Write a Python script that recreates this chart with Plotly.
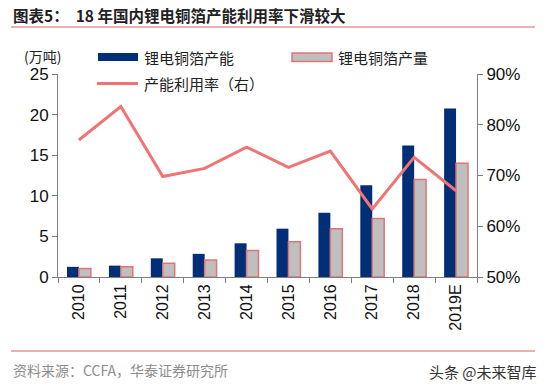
import plotly.graph_objects as go

years = ["2010", "2011", "2012", "2013", "2014", "2015", "2016", "2017", "2018", "2019E"]
capacity = [1.25, 1.4, 2.3, 2.85, 4.15, 5.95, 7.9, 11.3, 16.2, 20.75]
production = [1.05, 1.25, 1.7, 2.1, 3.25, 4.35, 5.95, 7.2, 12.0, 14.0]
utilization = [0.770, 0.836, 0.698, 0.714, 0.756, 0.716, 0.748, 0.634, 0.736, 0.670]

W, H = 551, 389
L, R, T, B = 58, 477, 74, 277

def px(x):
    return (x - L) / (R - L)

def py(y):
    return (B - y) / (B - T)

CJK = "Noto Sans CJK SC"
NUM = "Liberation Sans, Arial"
NAVY = "#002F78"
GRAY = "#BFBFBF"
PINK = "#E57373"
LINE = "#F07474"

fig = go.Figure()
fig.add_trace(go.Bar(x=years, y=capacity, name="锂电铜箔产能",
                     marker=dict(color=NAVY, line=dict(width=0))))
fig.add_trace(go.Bar(x=years, y=production, name="锂电铜箔产量",
                     marker=dict(color=GRAY, line=dict(color=PINK, width=1.5))))
fig.add_trace(go.Scatter(x=years, y=utilization, name="产能利用率（右）", yaxis="y2",
                         mode="lines", line=dict(color=LINE, width=3)))

axis_common = dict(showline=True, linecolor="#7F7F7F", linewidth=1, ticks="outside",
                   ticklen=5, tickcolor="#7F7F7F", showgrid=False, zeroline=False,
                   automargin=False)

fig.update_layout(
    width=W, height=H,
    margin=dict(l=L, r=W - R, t=T, b=H - B),
    paper_bgcolor="white", plot_bgcolor="white",
    barmode="group", bargap=0.43, bargroupgap=0,
    showlegend=False,
    font=dict(family=NUM, size=15, color="#222"),
    xaxis=dict(type="category", tickson="boundaries", tickangle=-90,
               tickfont=dict(size=16, family=NUM, color="#111"), **axis_common),
    yaxis=dict(range=[0, 25], dtick=5,
               tickfont=dict(size=17, family=NUM, color="#111"), **axis_common),
    yaxis2=dict(range=[0.5, 0.9], dtick=0.1, tickformat=".0%", overlaying="y", side="right",
                tickfont=dict(size=17, family=NUM, color="#111"), **axis_common),
)

# legend (drawn as swatches + labels)
fig.add_shape(type="rect", xref="paper", yref="paper", x0=px(98), x1=px(138),
              y0=py(61), y1=py(53), fillcolor=NAVY, line=dict(width=0))
fig.add_shape(type="rect", xref="paper", yref="paper", x0=px(292), x1=px(332),
              y0=py(61.5), y1=py(53), fillcolor=GRAY, line=dict(color=PINK, width=1.5))
fig.add_shape(type="line", xref="paper", yref="paper", x0=px(97), x1=px(138),
              y0=py(83.5), y1=py(83.5), line=dict(color=LINE, width=3))
legend_font = dict(family=CJK, size=15, color="#222")
fig.add_annotation(text=fig.data[0].name, xref="paper", yref="paper", x=px(142), y=py(57),
                   xanchor="left", yanchor="middle", showarrow=False, font=legend_font)
fig.add_annotation(text=fig.data[1].name, xref="paper", yref="paper", x=px(336), y=py(57),
                   xanchor="left", yanchor="middle", showarrow=False, font=legend_font)
fig.add_annotation(text=fig.data[2].name, xref="paper", yref="paper", x=px(142), y=py(83.5),
                   xanchor="left", yanchor="middle", showarrow=False, font=legend_font)

fig.add_annotation(text="<b>图表5：  18 年国内锂电铜箔产能利用率下滑较大</b>",
                   xref="paper", yref="paper", x=px(11), y=py(15), xanchor="left", yanchor="middle",
                   showarrow=False, font=dict(family=CJK, size=15.5, color="#222"))
fig.add_annotation(text="(万吨)", xref="paper", yref="paper", x=px(22), y=py(56),
                   xanchor="left", yanchor="middle", showarrow=False,
                   font=dict(family=CJK, size=14, color="#222"))
fig.add_annotation(text="资料来源：CCFA，华泰证券研究所", xref="paper", yref="paper",
                   x=px(11), y=py(370), xanchor="left", yanchor="middle", showarrow=False,
                   font=dict(family=CJK, size=14, color="#8C8C8C"))
fig.add_annotation(text="头条 @未来智库", xref="paper", yref="paper",
                   x=px(539), y=py(371), xanchor="right", yanchor="middle", showarrow=False,
                   font=dict(family=CJK, size=15, color="#333"))

for yy in (27, 351):
    fig.add_shape(type="line", xref="paper", yref="paper", x0=px(11), x1=px(535),
                  y0=py(yy), y1=py(yy), line=dict(color="#D9645F", width=1.2))

fig.write_html("out.html", config={"displayModeBar": False},
               post_script="document.body.style.margin='0';document.body.style.overflow='hidden';")
